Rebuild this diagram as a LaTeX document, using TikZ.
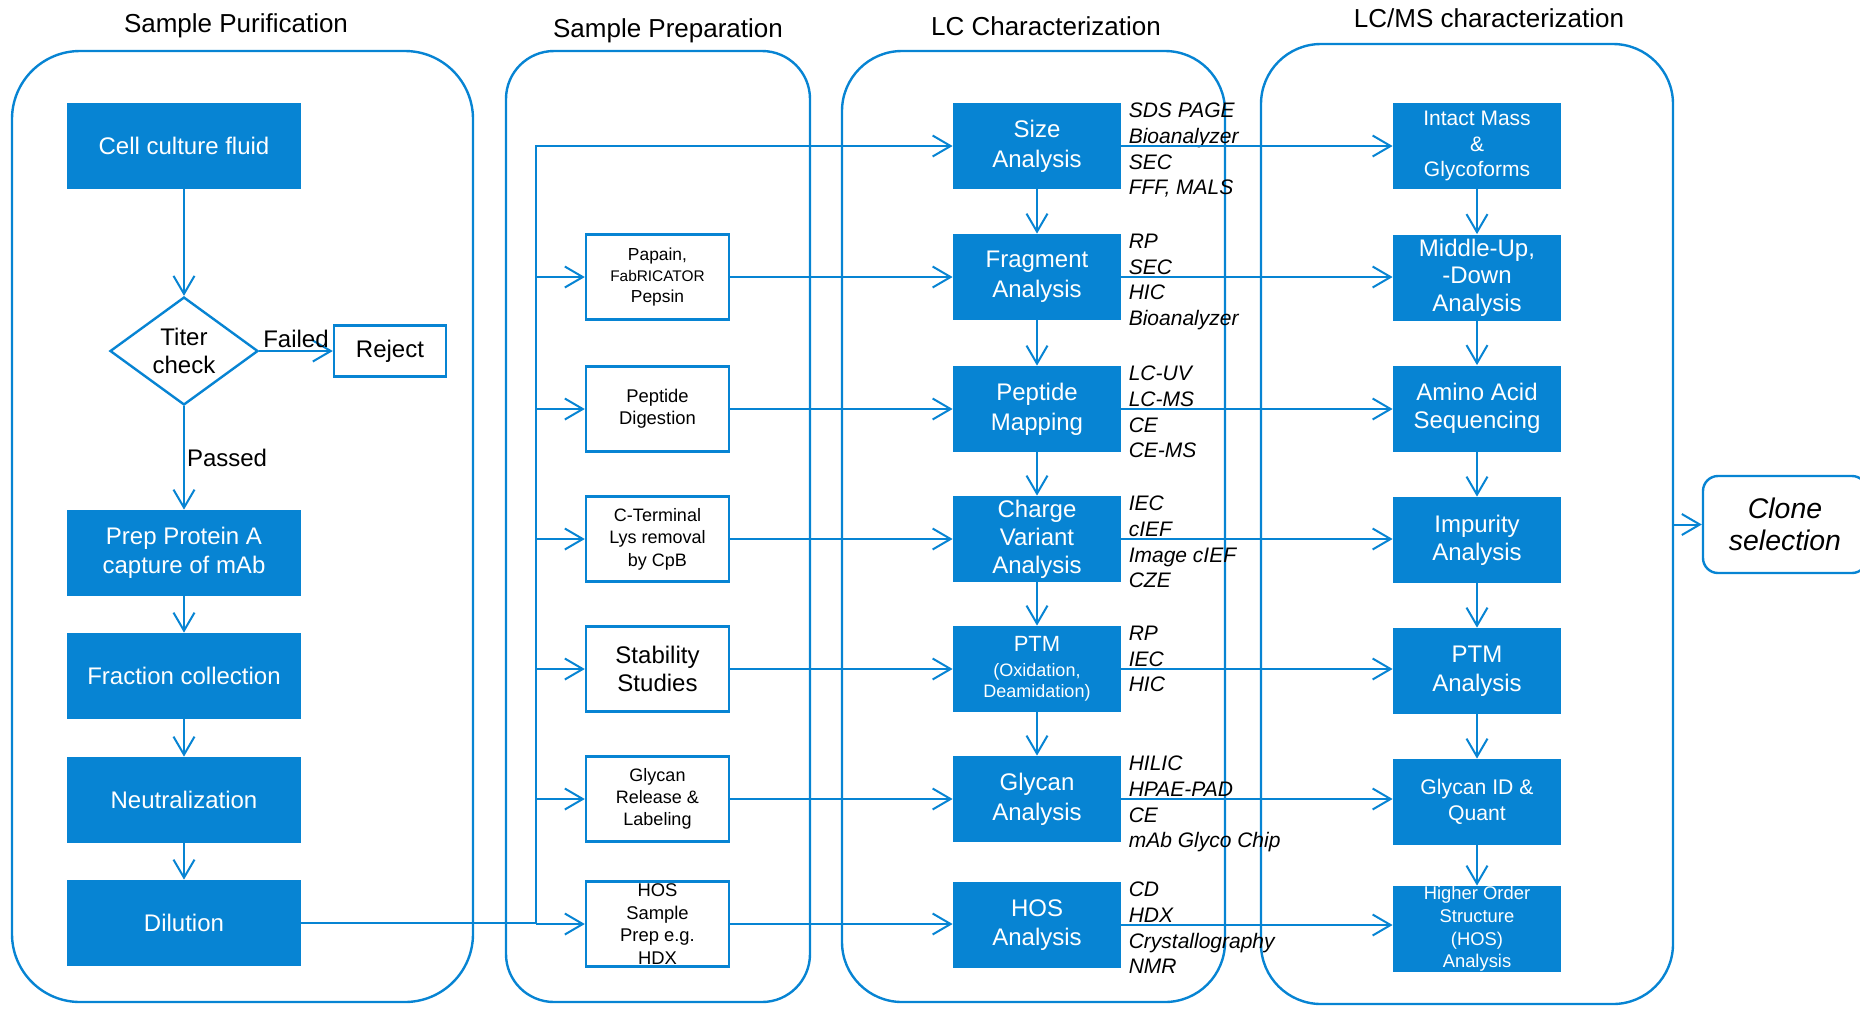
\documentclass[tikz,border=0pt]{standalone}
\usepackage{fontspec}
\setmainfont{Liberation Sans}
\usetikzlibrary{arrows.meta,shapes.geometric,fit,positioning}
\definecolor{labblue}{HTML}{0784D3}
\tikzset{
  grp/.style={draw=labblue, line width=1.2pt, inner sep=0pt},
  bluebox/.style={fill=labblue, text=white, minimum width=84pt, minimum height=43pt, inner sep=0pt, align=center, font=\fontsize{12}{14.8}\selectfont},
  purbox/.style={bluebox, minimum width=117pt},
  prepbox/.style={draw=labblue, line width=1.2pt, fill=white, minimum width=71.5pt, minimum height=42.5pt, inner sep=0pt, align=center},
  meth/.style={anchor=north west, inner sep=0pt, align=left, font=\itshape\fontsize{10.5}{12.85}\selectfont},
  heading/.style={anchor=base, font=\fontsize{13}{15}\selectfont},
  arr/.style={draw=labblue, line width=1pt, -{Straight Barb[length=9pt,width=10.5pt]}}
}
\begin{document}
\begin{tikzpicture}[x=0.5pt, y=-0.5pt, font=\fontsize{12}{14.4}\selectfont]
\useasboundingbox (0,0) rectangle (1860,1009);

\node[heading] (t-pur) at (236,32.5) {Sample Purification};
\node[heading] (t-prep) at (668,37.5) {Sample Preparation};
\node[heading] (t-lc) at (1046,35) {LC Characterization};
\node[heading] (t-ms) at (1489,27) {LC/MS characterization};

\node[grp, rounded corners=34pt, fit={(12,51) (473,1002)}] (pur) {};
\node[grp, rounded corners=24pt, fit={(506,51) (810,1002)}] (prep) {};
\node[grp, rounded corners=30pt, fit={(842,51) (1225,1002)}] (lc) {};
\node[grp, rounded corners=30pt, fit={(1261,44) (1673,1004)}] (ms) {};

% purification
\node[purbox] (cell) at (184,146) {Cell culture fluid};
\node[draw=labblue, line width=1.2pt, diamond, minimum width=74pt, minimum height=51pt, inner sep=0pt, align=center, font=\fontsize{12}{13.8}\selectfont] (titer) at (184,351) {Titer\\check};
\node[draw=labblue, line width=1.2pt, minimum width=56pt, minimum height=25.5pt] (reject) at (390,351) {Reject};
\node[purbox, font=\fontsize{12}{14.3}\selectfont] (protA) at (184,553) {Prep Protein A\\capture of mAb};
\node[purbox] (fraction) at (184,676) {Fraction collection};
\node[purbox] (neutral) at (184,800) {Neutralization};
\node[purbox] (dilution) at (184,923) {Dilution};

% preparation
\node[prepbox, font=\fontsize{8.7}{10.4}\selectfont] (papain) at (657.5,277) {Papain,\\{\fontsize{7.7}{10.4}\selectfont FabRICATOR}\\Pepsin};
\node[prepbox, font=\fontsize{9.2}{10.8}\selectfont] (pepdig) at (657.5,409) {Peptide\\Digestion};
\node[prepbox, font=\fontsize{9}{11.2}\selectfont] (cterm) at (657.5,539) {C-Terminal\\Lys removal\\by CpB};
\node[prepbox, font=\fontsize{12}{13.7}\selectfont] (stab) at (657.5,669) {Stability\\Studies};
\node[prepbox, font=\fontsize{9}{11}\selectfont] (glyrel) at (657.5,799) {Glycan\\Release \&\\Labeling};
\node[prepbox, font=\fontsize{9.2}{11.3}\selectfont] (hosprep) at (657.5,924) {HOS\\Sample\\Prep e.g.\\HDX};

% LC
\node[bluebox] (size) at (1037,146) {Size\\Analysis};
\node[bluebox] (frag) at (1037,277) {Fragment\\Analysis};
\node[bluebox] (pepmap) at (1037,409) {Peptide\\Mapping};
\node[bluebox, font=\fontsize{12}{14}\selectfont] (charge) at (1037,539) {Charge\\Variant\\Analysis};
\node[bluebox, font=\fontsize{9}{10.7}\selectfont] (ptm) at (1037,669) {{\fontsize{11}{13}\selectfont PTM}\\[1.5pt](Oxidation,\\Deamidation)};
\node[bluebox] (gly) at (1037,799) {Glycan\\Analysis};
\node[bluebox] (hos) at (1037,925) {HOS\\Analysis};

\node[meth] (size-m) at ([xshift=3.5pt]size.north east) {SDS PAGE\\Bioanalyzer\\SEC\\FFF, MALS};
\node[meth] (frag-m) at ([xshift=3.5pt]frag.north east) {RP\\SEC\\HIC\\Bioanalyzer};
\node[meth] (pepmap-m) at ([xshift=3.5pt]pepmap.north east) {LC-UV\\LC-MS\\CE\\CE-MS};
\node[meth] (charge-m) at ([xshift=3.5pt]charge.north east) {IEC\\cIEF\\Image cIEF\\CZE};
\node[meth] (ptm-m) at ([xshift=3.5pt]ptm.north east) {RP\\IEC\\HIC};
\node[meth] (gly-m) at ([xshift=3.5pt]gly.north east) {HILIC\\HPAE-PAD\\CE\\mAb Glyco Chip};
\node[meth] (hos-m) at ([xshift=3.5pt]hos.north east) {CD\\HDX\\Crystallography\\NMR};

% LC/MS
\node[bluebox, font=\fontsize{10.5}{12.75}\selectfont] (intact) at (1477,146) {Intact Mass\\\&\\Glycoforms};
\node[bluebox, font=\fontsize{12}{13.75}\selectfont] (midup) at (1477,277.5) {Middle-Up,\\-Down\\Analysis};
\node[bluebox, font=\fontsize{12}{13.8}\selectfont] (amino) at (1477,408.5) {Amino Acid\\Sequencing};
\node[bluebox, font=\fontsize{12}{14.2}\selectfont] (impur) at (1477,540) {Impurity\\Analysis};
\node[bluebox, font=\fontsize{12}{14.5}\selectfont] (ptm2) at (1477,671) {PTM\\Analysis};
\node[bluebox, font=\fontsize{10.6}{12.8}\selectfont] (glyid) at (1477,802) {Glycan ID \&\\Quant};
\node[bluebox, font=\fontsize{9.2}{11.3}\selectfont] (hos2) at (1477,929) {Higher Order\\Structure\\(HOS)\\Analysis};

\node[draw=labblue, line width=1.2pt, rounded corners=7.5pt, minimum width=82pt, minimum height=48.5pt, align=center, font=\itshape\fontsize{14.2}{15.8}\selectfont] (clone) at (1785,524.5) {Clone\\selection};

\draw[arr] (cell) -- (titer);
\draw[arr] (titer) -- node[above, inner sep=1pt] (failed) {Failed} (reject);
\draw[arr] (titer) -- node[right, inner sep=1pt] (passed) {Passed} (protA);
\draw[arr] (protA) -- (fraction);
\draw[arr] (fraction) -- (neutral);
\draw[arr] (neutral) -- (dilution);

\coordinate (bus) at (536,923);
\draw[arr] (dilution.east) -- (bus) |- (size.west);
\foreach \p in {papain,pepdig,cterm,stab,glyrel,hosprep}
  \draw[arr] (bus |- \p.west) -- (\p.west);

\foreach \p/\q in {papain/frag,pepdig/pepmap,cterm/charge,stab/ptm,glyrel/gly,hosprep/hos}
  \draw[arr] (\p.east) -- (\p.east -| \q.west);

\foreach \p/\q in {size/frag,frag/pepmap,pepmap/charge,charge/ptm,ptm/gly}
  \draw[arr] (\p) -- (\q);

\foreach \p/\q in {size/intact,frag/midup,pepmap/amino,charge/impur,ptm/ptm2,gly/glyid,hos/hos2}
  \draw[arr] (\p.east) -- (\p.east -| \q.west);

\foreach \p/\q in {intact/midup,midup/amino,amino/impur,impur/ptm2,ptm2/glyid,glyid/hos2}
  \draw[arr] (\p) -- (\q);

\draw[arr] (ms.east |- clone.west) -- (clone.west);
\end{tikzpicture}
\end{document}
